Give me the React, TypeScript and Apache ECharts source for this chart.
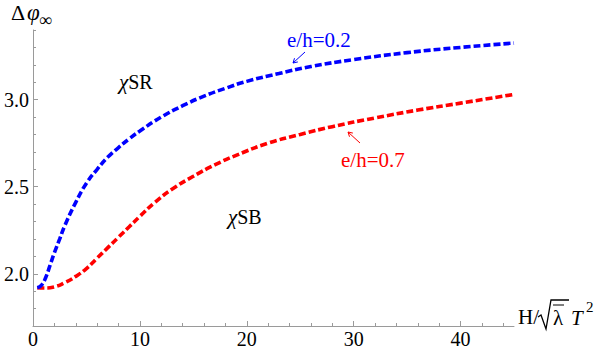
import React, { useEffect, useRef } from "react";
import * as echarts from "echarts";

const blueX = [0.4, 0.8, 1.2, 1.6, 2.0, 2.5, 3.0, 4.0, 5.0, 6.0, 7.0, 8.0, 9.0, 10, 12, 14, 16, 18, 20, 23, 26, 30, 35, 40, 45];
const blueY = [1.92, 1.935, 1.98, 2.05, 2.12, 2.2, 2.28, 2.41, 2.52, 2.6, 2.67, 2.725, 2.775, 2.82, 2.9, 2.965, 3.02, 3.065, 3.105, 3.15, 3.19, 3.23, 3.27, 3.3, 3.325];
const redX = [0.4, 1, 2, 3, 4, 5, 6, 7, 8, 9, 10, 11.4, 13, 15, 17, 19, 22, 25, 28, 32, 36, 40, 45];
const redY = [1.92, 1.918, 1.925, 1.95, 1.985, 2.03, 2.09, 2.15, 2.21, 2.27, 2.33, 2.41, 2.485, 2.56, 2.625, 2.68, 2.75, 2.8, 2.845, 2.895, 2.94, 2.98, 3.03];

const xMajor = [0, 10, 20, 30, 40];
const xMinor = [2, 4, 6, 8, 12, 14, 16, 18, 22, 24, 26, 28, 32, 34, 36, 38, 42, 44];
const yMajor = [2.0, 2.5, 3.0];
const yMinor = [1.7, 1.8, 1.9, 2.1, 2.2, 2.3, 2.4, 2.6, 2.7, 2.8, 2.9, 3.1, 3.2, 3.3, 3.4];

const FONT = "Liberation Serif";
const AXIS_COLOR = "#9a9a9a";

function arrow(x1: number, y1: number, x2: number, y2: number, color: string) {
  const dx = x2 - x1, dy = y2 - y1;
  const L = Math.hypot(dx, dy);
  const ux = dx / L, uy = dy / L;
  const h = 5, a = Math.PI / 6;
  const rot = (t: number) => [ux * Math.cos(t) - uy * Math.sin(t), ux * Math.sin(t) + uy * Math.cos(t)];
  const [p1x, p1y] = rot(a);
  const [p2x, p2y] = rot(-a);
  return [
    { type: "line", shape: { x1, y1, x2, y2 }, style: { stroke: color, lineWidth: 1 } },
    {
      type: "polyline",
      shape: { points: [[x2 - p1x * h, y2 - p1y * h], [x2, y2], [x2 - p2x * h, y2 - p2y * h]] },
      style: { stroke: color, lineWidth: 1, fill: null },
    },
  ];
}

export default function App() {
  const ref = useRef<HTMLDivElement>(null);
  useEffect(() => {
    if (!ref.current) return;
    document.body.style.margin = "0";
    const chart = echarts.init(ref.current, null, { renderer: "svg" });
    const txt = (text: string, x: number, y: number, opts: any = {}) => {
      const style: any = {
        text,
        fill: opts.fill || "#000",
        fontFamily: FONT,
        fontSize: opts.fontSize || 20,
        align: "left",
        verticalAlign: "middle",
      };
      if (opts.italic) style.fontStyle = "italic";
      if (opts.rich) style.rich = opts.rich;
      return { type: "text", x, y, style };
    };
    const lineSeries = (xs: number[], ys: number[], color: string) => ({
      type: "line",
      data: xs.map((x, i) => [x, ys[i]]),
      smooth: 0.5,
      showSymbol: false,
      lineStyle: { color, width: 3.6, type: [7, 3] },
    });
    const richItalic = { i: { fontStyle: "italic", fontFamily: FONT, fontSize: 21 }, n: { fontFamily: FONT, fontSize: 20 } };
    chart.setOption({
      animation: false,
      grid: { left: 33, right: 98, top: 30, bottom: 27 },
      xAxis: [
        {
          type: "value",
          min: 0,
          max: 45,
          axisLine: { onZero: false, lineStyle: { color: AXIS_COLOR, width: 1 } },
          axisTick: { inside: true, length: 5, customValues: xMajor, lineStyle: { color: AXIS_COLOR } },
          axisLabel: { customValues: xMajor, color: "#000", fontFamily: FONT, fontSize: 20, margin: 3 },
          splitLine: { show: false },
        },
        {
          type: "value",
          position: "bottom",
          min: 0,
          max: 45,
          axisLine: { show: false },
          axisTick: { inside: true, length: 3, customValues: xMinor, lineStyle: { color: AXIS_COLOR } },
          axisLabel: { show: false },
          splitLine: { show: false },
        },
      ],
      yAxis: [
        {
          type: "value",
          min: 1.7,
          max: 3.4,
          axisLine: { show: true, onZero: false, lineStyle: { color: AXIS_COLOR, width: 1 } },
          axisTick: { show: true, inside: true, length: 5, customValues: yMajor, lineStyle: { color: AXIS_COLOR } },
          axisLabel: {
            customValues: yMajor,
            formatter: (v: number) => v.toFixed(1),
            color: "#000",
            fontFamily: FONT,
            fontSize: 20,
            margin: 4,
          },
          splitLine: { show: false },
        },
        {
          type: "value",
          position: "left",
          min: 1.7,
          max: 3.4,
          axisLine: { show: false },
          axisTick: { show: true, inside: true, length: 3, customValues: yMinor, lineStyle: { color: AXIS_COLOR } },
          axisLabel: { show: false },
          splitLine: { show: false },
        },
      ],
      series: [lineSeries(redX, redY, "#ff0000"), lineSeries(blueX, blueY, "#0000ff")],
      graphic: [
        // y-axis name
        txt("Δ", 11, 12, { fontSize: 22 }),
        txt("φ", 27, 12, { fontSize: 23, italic: true }),
        txt("∞", 39, 20, { fontSize: 18 }),
        // x-axis name
        txt("H/", 518, 317, { fontSize: 21 }),
        {
          type: "polyline",
          shape: { points: [[538, 317], [541, 315], [546, 329], [551, 300], [569, 300]] },
          style: { stroke: "#000", lineWidth: 1.3, fill: null },
        },
        txt("λ", 553, 318, { fontSize: 21 }),
        { type: "line", shape: { x1: 553, y1: 305, x2: 564, y2: 305 }, style: { stroke: "#000", lineWidth: 1 } },
        txt("T", 571, 318, { fontSize: 21, italic: true }),
        txt("2", 586, 307, { fontSize: 15 }),
        // annotations
        txt("{i|χ}{n|SR}", 119, 82, { rich: richItalic }),
        txt("{i|χ}{n|SB}", 228, 217, { rich: richItalic }),
        txt("e/h=0.2", 287, 40, { fill: "#0000ff", fontSize: 21 }),
        txt("e/h=0.7", 341, 160, { fill: "#ff0000", fontSize: 21 }),
        ...arrow(305, 52, 293, 63, "#0000ff"),
        ...arrow(360, 143, 348, 132, "#ff0000"),
      ],
    });
    return () => chart.dispose();
  }, []);
  return <div ref={ref} style={{ width: 612, height: 353 }} />;
}
